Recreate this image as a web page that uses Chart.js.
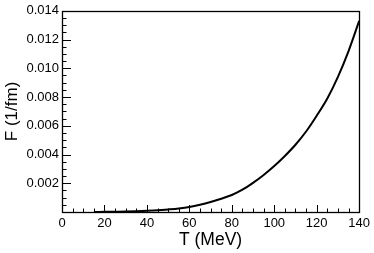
<!DOCTYPE html>
<html><head><meta charset="utf-8">
<script src="https://cdn.jsdelivr.net/npm/chart.js@4/dist/chart.umd.min.js"></script>
<style>html,body{margin:0;padding:0;background:#fff}#wrap{width:374px;height:253px}</style>
</head><body><div id="wrap"><canvas id="c" width="374" height="253"></canvas></div>
<script>
const temperatures = [15,20,25,30,35,40,45,50,55,60,65,70,75,80,85,90,95,100,105,110,115,120,125,130,135,140];
const fValues = [0.0,0.00001,0.00002,0.00003,0.00005,0.00008,0.00012,0.00018,0.00025,0.00035,0.00050,0.00069,0.00092,0.00118,0.00155,0.00203,0.00258,0.00320,0.0039,0.00468,0.0056,0.0067,0.0079,0.0094,0.0112,0.0133];
const xTicks = [0,20,40,60,80,100,120,140];
const yTicks = [0.002,0.004,0.006,0.008,0.010,0.012,0.014];

const FONT = '"Liberation Sans", Arial, sans-serif';

const frameTicks = {
  id: 'frameTicks',
  afterDatasetsDraw(chart) {
    const ctx = chart.ctx, a = chart.chartArea;
    const xs = chart.scales.x, ys = chart.scales.y;
    ctx.save();
    ctx.strokeStyle = '#000';
    ctx.lineWidth = 1;
    ctx.beginPath();
    for (let v = 0; v <= 140; v += 5) {
      const px = Math.round(xs.getPixelForValue(v)) + 0.5;
      const len = (v % 20 === 0) ? 7 : 3.5;
      ctx.moveTo(px, a.bottom); ctx.lineTo(px, a.bottom - len);
    }
    for (let i = 0; i <= 28; i++) {
      const v = i * 0.0005;
      const py = Math.round(ys.getPixelForValue(v)) + 0.5;
      const len = (i % 4 === 0) ? 9 : 4.5;
      ctx.moveTo(a.left, py); ctx.lineTo(a.left + len, py);
    }
    ctx.stroke();
    ctx.lineWidth = 1.3;
    ctx.strokeRect(Math.round(a.left)+0.5, Math.round(a.top)+0.5, Math.round(a.right - a.left), Math.round(a.bottom - a.top));
    ctx.restore();
  }
};

new Chart(document.getElementById('c'), {
  type: 'line',
  data: {
    datasets: [{
      data: temperatures.map((t, i) => ({x: t, y: fValues[i]})),
      borderColor: '#000',
      borderWidth: 2,
      pointRadius: 0,
      fill: false,
      cubicInterpolationMode: 'monotone'
    }]
  },
  options: {
    responsive: false,
    animation: false,
    devicePixelRatio: 1,
    layout: { padding: { left: 0, right: 12, top: 10, bottom: 0 } },
    plugins: { legend: { display: false }, tooltip: { enabled: false } },
    scales: {
      x: {
        type: 'linear', min: 0, max: 140,
        afterBuildTicks: s => { s.ticks = xTicks.map(v => ({value: v})); },
        afterFit: s => { s.height = 41; },
        grid: { display: false, drawTicks: false },
        border: { display: false },
        ticks: { color: '#000', font: { family: FONT, size: 13 }, padding: 4, maxRotation: 0, autoSkip: false },
        title: { display: true, text: 'T (MeV)', color: '#000', font: { family: FONT, size: 17.5 }, padding: { top: 0, bottom: 2 } }
      },
      y: {
        type: 'linear', min: 0, max: 0.014,
        afterBuildTicks: s => { s.ticks = [{value: 0}].concat(yTicks.map(v => ({value: v}))); },
        afterFit: s => { s.width = 62; },
        grid: { display: false, drawTicks: false },
        border: { display: false },
        ticks: { color: '#000', font: { family: FONT, size: 13 }, padding: 3, autoSkip: false,
          callback: v => v === 0 ? '' : v.toFixed(3) },
        title: { display: true, text: 'F (1/fm)', color: '#000', font: { family: FONT, size: 17 }, padding: { top: 2, bottom: 0 } }
      }
    }
  },
  plugins: [frameTicks]
});
</script>
</body></html>
